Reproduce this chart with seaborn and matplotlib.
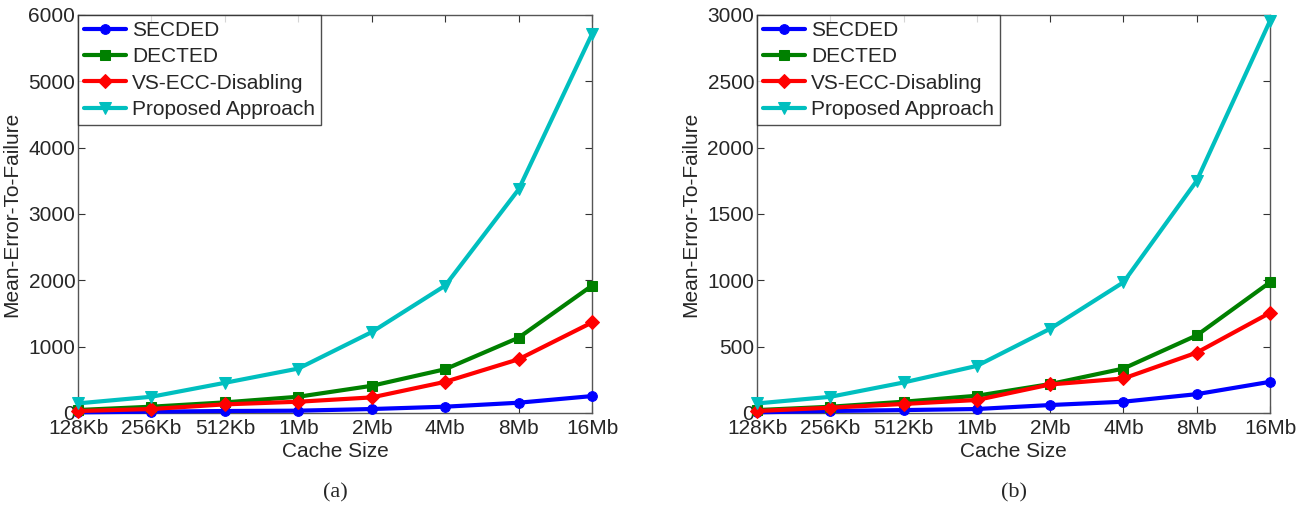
import numpy as np
import pandas as pd
import matplotlib
matplotlib.use("Agg")
import matplotlib.pyplot as plt
import seaborn as sns

cache_sizes = ["128Kb", "256Kb", "512Kb", "1Mb", "2Mb", "4Mb", "8Mb", "16Mb"]
series_names = ["SECDED", "DECTED", "VS-ECC-Disabling", "Proposed Approach"]

# Panel (a)
a_secded = [10, 20, 30, 35, 60, 95, 155, 255]
a_dected = [45, 95, 160, 245, 410, 660, 1135, 1920]
a_vs = [30, 60, 130, 170, 235, 470, 810, 1365]
a_proposed = [145, 245, 455, 670, 1220, 1920, 3370, 5715]

# Panel (b)
b_secded = [5, 15, 22, 30, 60, 85, 142, 235]
b_dected = [22, 47, 85, 130, 218, 335, 585, 985]
b_vs = [15, 40, 68, 98, 215, 260, 455, 755]
b_proposed = [72, 122, 230, 355, 635, 985, 1750, 2955]

sns.set_style("white")
plt.rcParams['font.family'] = ['Liberation Sans', 'DejaVu Sans']

colors = {"SECDED": "#0000ff", "DECTED": "#008000",
          "VS-ECC-Disabling": "#ff0000", "Proposed Approach": "#00bfbf"}
markers = {"SECDED": "o", "DECTED": "s", "VS-ECC-Disabling": "D", "Proposed Approach": "v"}
msizes = {"SECDED": 7, "DECTED": 7, "VS-ECC-Disabling": 7, "Proposed Approach": 9}


def make_df(vals):
    rows = []
    for name, v in zip(series_names, vals):
        for i, y in enumerate(v):
            rows.append({"x": i, "y": y, "series": name})
    return pd.DataFrame(rows)


fig = plt.figure(figsize=(13.07, 5.14), dpi=100)
ax1 = fig.add_axes([0.0597, 0.1965, 0.3933, 0.7745])
ax2 = fig.add_axes([0.5792, 0.1965, 0.3925, 0.7745])

panels = [
    (ax1, make_df([a_secded, a_dected, a_vs, a_proposed]), 6000, 1000, "(a)"),
    (ax2, make_df([b_secded, b_dected, b_vs, b_proposed]), 3000, 500, "(b)"),
]

for ax, df, ymax, step, cap in panels:
    for name in series_names:
        sub = df[df["series"] == name]
        sns.lineplot(data=sub, x="x", y="y", ax=ax, color=colors[name],
                     marker=markers[name], markersize=msizes[name], linewidth=3,
                     markeredgecolor=colors[name], label=name, sort=False,
                     clip_on=False, zorder=3)
    ax.set_xlim(0, len(cache_sizes) - 1)
    ax.set_ylim(0, ymax)
    ax.set_xticks(range(len(cache_sizes)))
    ax.set_xticklabels(cache_sizes)
    ax.set_yticks(np.arange(0, ymax + 1, step))
    ax.tick_params(axis="x", pad=4)
    ax.tick_params(axis="y", pad=2)
    ax.tick_params(direction="in", length=5, width=0.8, labelsize=15,
                   top=True, right=True, bottom=True, left=True, color="#333333")
    for s in ax.spines.values():
        s.set_color("#555555")
        s.set_linewidth(1.0)
    ax.set_xlabel("Cache Size", fontsize=15, labelpad=3)
    ax.set_ylabel("Mean-Error-To-Failure", fontsize=15, labelpad=5)
    leg = ax.legend(loc="upper left", fontsize=15, frameon=True, fancybox=False,
                    borderaxespad=0, handlelength=2.0, handletextpad=0.3,
                    labelspacing=0.35, borderpad=0.3)
    leg.get_frame().set_edgecolor("#222222")
    leg.get_frame().set_linewidth(1.0)
    bb = ax.get_position()
    fig.text((bb.x0 + bb.x1) / 2, 0.041, cap, ha="center", va="center",
             fontsize=16, family="Liberation Serif")

fig.savefig("out.png", dpi=100)
